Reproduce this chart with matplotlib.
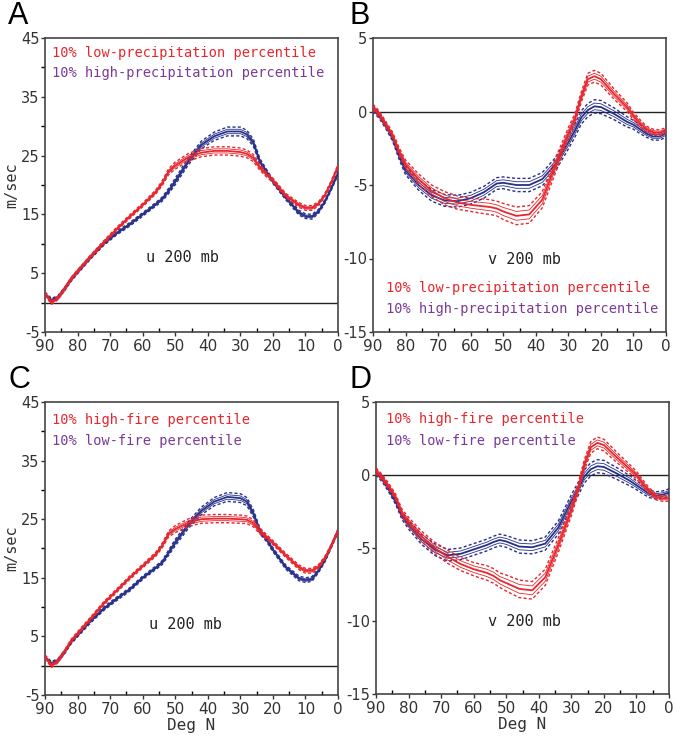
import numpy as np
import matplotlib
matplotlib.use('Agg')
import matplotlib.pyplot as plt

plt.rcParams['axes.unicode_minus'] = False

# latitude grid (deg N) shared by all curves
lat = [90, 88, 86, 84, 82, 80, 76, 72, 68, 64, 60, 56, 54, 52, 50, 46, 42, 38,
       34, 30, 28, 26, 24, 22, 20, 16, 12, 10, 8, 6, 4, 2, 0]

# A: u 200 mb, precipitation composites
a_red = [1.5, 0.0, 0.8, 2.3, 4.0, 5.3, 7.8, 10.2, 12.5, 14.6, 16.6, 18.8, 20.3, 22.3, 23.3, 24.7, 25.5, 25.8,
         25.8, 25.6, 25.3, 24.6, 23.0, 21.8, 20.8, 18.2, 16.6, 16.1, 16.1, 16.8, 18.3, 20.5, 23.2]
a_blue = [1.5, 0.4, 0.9, 2.3, 3.9, 5.2, 7.7, 10.0, 11.8, 13.3, 15.0, 16.7, 17.6, 19.0, 20.6, 24.0, 26.8, 28.3,
          29.1, 29.1, 28.6, 27.2, 24.0, 22.3, 20.6, 17.8, 15.3, 14.7, 14.6, 15.5, 17.2, 19.5, 22.0]
# B: v 200 mb, precipitation composites
b_red = [0.3, -0.2, -0.9, -1.6, -2.7, -3.6, -4.6, -5.4, -5.9, -6.2, -6.35, -6.45, -6.5, -6.6, -6.8, -7.1, -7.0, -6.0,
         -3.7, -1.5, -0.5, 1.0, 2.2, 2.4, 2.2, 1.2, 0.3, -0.3, -0.8, -1.2, -1.4, -1.45, -1.3]
b_blue = [0.2, -0.3, -1.0, -1.8, -3.0, -4.0, -5.0, -5.7, -6.05, -6.1, -5.9, -5.5, -5.2, -4.9, -4.85, -5.0, -5.0, -4.6,
          -3.6, -2.1, -1.3, -0.4, 0.1, 0.35, 0.3, -0.15, -0.7, -0.9, -1.2, -1.5, -1.7, -1.7, -1.5]
# C: u 200 mb, fire composites
c_red = [1.5, 0.0, 0.8, 2.4, 4.2, 5.5, 8.0, 10.6, 12.8, 15.0, 17.0, 19.0, 20.5, 22.5, 23.3, 24.4, 25.0, 25.1,
         25.1, 25.0, 24.9, 24.3, 23.0, 22.0, 21.0, 18.8, 16.8, 16.2, 16.2, 16.9, 18.4, 20.5, 23.0]
c_blue = [1.5, 0.4, 0.9, 2.3, 4.0, 5.2, 7.6, 9.7, 11.4, 13.0, 15.0, 16.7, 17.6, 19.3, 21.0, 24.0, 26.4, 28.0,
          28.8, 28.6, 28.0, 26.0, 23.0, 21.6, 19.8, 16.8, 14.9, 14.6, 14.8, 16.2, 18.0, 20.5, 23.0]
# D: v 200 mb, fire composites
d_red = [0.3, -0.2, -0.8, -1.5, -2.6, -3.2, -4.2, -5.0, -5.6, -6.1, -6.45, -6.7, -6.9, -7.2, -7.4, -7.8, -7.9, -7.0,
         -4.8, -2.4, -1.0, 0.7, 1.9, 2.2, 2.05, 1.2, 0.4, 0.0, -0.6, -1.1, -1.5, -1.6, -1.6]
d_blue = [0.2, -0.3, -1.0, -1.8, -2.8, -3.4, -4.4, -5.1, -5.5, -5.4, -5.1, -4.8, -4.6, -4.45, -4.55, -4.9, -4.95, -4.7,
          -3.6, -1.8, -1.0, -0.1, 0.4, 0.6, 0.55, 0.1, -0.4, -0.7, -1.0, -1.3, -1.4, -1.35, -1.2]

# half-width of the dashed confidence lines
u_red_spread = [0.3, 0.3, 0.3, 0.3, 0.3, 0.3, 0.3, 0.3, 0.3, 0.3, 0.3, 0.35, 0.4, 0.5, 0.6, 0.65, 0.7, 0.7,
                0.7, 0.7, 0.65, 0.6, 0.5, 0.4, 0.35, 0.35, 0.4, 0.4, 0.4, 0.35, 0.3, 0.3, 0.3]
u_blue_spread = [0.3, 0.3, 0.3, 0.3, 0.3, 0.3, 0.3, 0.3, 0.3, 0.3, 0.3, 0.3, 0.35, 0.45, 0.55, 0.6, 0.65, 0.7,
                 0.75, 0.75, 0.7, 0.6, 0.5, 0.4, 0.35, 0.35, 0.4, 0.4, 0.4, 0.35, 0.3, 0.3, 0.3]
v_red_spread = [0.2, 0.2, 0.2, 0.2, 0.25, 0.3, 0.35, 0.4, 0.45, 0.45, 0.45, 0.5, 0.5, 0.5, 0.55, 0.6, 0.6, 0.55,
                0.5, 0.4, 0.35, 0.35, 0.4, 0.4, 0.4, 0.35, 0.3, 0.25, 0.25, 0.2, 0.2, 0.2, 0.2]
v_blue_spread = [0.2, 0.2, 0.2, 0.2, 0.25, 0.3, 0.35, 0.4, 0.4, 0.4, 0.4, 0.4, 0.4, 0.4, 0.4, 0.45, 0.45, 0.45,
                 0.45, 0.45, 0.45, 0.45, 0.45, 0.45, 0.45, 0.4, 0.35, 0.3, 0.3, 0.25, 0.25, 0.25, 0.25]

RED = '#e8262d'
BLUE = '#27308a'
PURPLE = '#7a3a96'
MONO = 'DejaVu Sans Mono'

W, H = 677, 742
fig = plt.figure(figsize=(W / 100, H / 100), dpi=100)


def px_axes(left, top, right, bottom):
    return fig.add_axes([left / W, 1 - bottom / H, (right - left) / W, (bottom - top) / H])


def band(ax, y, s, color):
    x = np.array(lat)
    y = np.array(y)
    s = np.array(s)
    ax.plot(x, y, color=color, lw=1.3, zorder=3)
    for k in (-0.5, 0.5):
        ax.plot(x, y + k * s, color=color, lw=0.6, zorder=3)
    for k in (-1, 1):
        ax.plot(x, y + k * s, color=color, lw=1.0, ls=(0, (2.2, 1.6)), zorder=3)


def style(ax, ylim, major, xlabel):
    ax.set_xlim(90, 0)
    ax.set_ylim(*ylim)
    ax.axhline(0, color='#222222', lw=1.0, zorder=2)
    ax.set_xticks(range(90, -1, -10))
    ax.set_xticks(range(85, 0, -10), minor=True)
    ax.set_yticks(major)
    ax.set_yticks(np.arange(ylim[0], ylim[1] + 0.1, 5), minor=True)
    ax.tick_params(axis='x', which='major', direction='out', length=3, width=1, labelsize=11, pad=2)
    ax.tick_params(axis='x', which='minor', direction='in', length=3, width=1)
    ax.tick_params(axis='y', which='both', direction='out', length=3, width=1, labelsize=10.5, pad=1)
    ax.tick_params(colors='#333333')
    for sp in ax.spines.values():
        sp.set_color('#444444')
        sp.set_linewidth(1.2)
    if xlabel:
        ax.set_xlabel('Deg N', family=MONO, fontsize=11.5, labelpad=1, color='#333333')


panels = [
    ('A', (45, 38, 338, 332), a_red, a_blue, u_red_spread, u_blue_spread,
     ['10% low-precipitation percentile', '10% high-precipitation percentile'], 'u 200 mb'),
    ('B', (373, 38, 666, 332), b_red, b_blue, v_red_spread, v_blue_spread,
     ['10% low-precipitation percentile', '10% high-precipitation percentile'], 'v 200 mb'),
    ('C', (45, 402, 338, 695), c_red, c_blue, u_red_spread, u_blue_spread,
     ['10% high-fire percentile', '10% low-fire percentile'], 'u 200 mb'),
    ('D', (376, 402, 669, 694), d_red, d_blue, v_red_spread, v_blue_spread,
     ['10% high-fire percentile', '10% low-fire percentile'], 'v 200 mb'),
]

for letter, box, red, blue, rs, bs, labels, title in panels:
    ax = px_axes(*box)
    is_u = title.startswith('u')
    if is_u:
        style(ax, (-5, 45), [-5, 5, 15, 25, 35, 45], letter == 'C')
        ax.set_ylabel('m/sec', family=MONO, fontsize=11, labelpad=1, color='#333333')
    else:
        style(ax, (-15, 5), [-15, -10, -5, 0, 5], letter == 'D')
    band(ax, blue, bs, BLUE)
    band(ax, red, rs, RED)

    if letter == 'B':
        lx, ly1, ly2 = 0.044, 0.150, 0.077
        tx, ty = 0.518, 0.248
    elif letter == 'A':
        lx, ly1, ly2 = 0.024, 0.949, 0.881
        tx, ty = 0.47, 0.252
    elif letter == 'C':
        lx, ly1, ly2 = 0.024, 0.939, 0.867
        tx, ty = 0.478, 0.239
    else:
        lx, ly1, ly2 = 0.034, 0.942, 0.868
        tx, ty = 0.507, 0.248
    ax.text(lx, ly1, labels[0], transform=ax.transAxes, family=MONO, fontsize=9.8,
            color=RED, va='center', ha='left')
    ax.text(lx, ly2, labels[1], transform=ax.transAxes, family=MONO, fontsize=9.8,
            color=PURPLE, va='center', ha='left')
    ax.text(tx, ty, title, transform=ax.transAxes, family=MONO, fontsize=11,
            color='#222222', va='center', ha='center')

    lpx = 8 if box[0] < 100 else 350
    lpy = 16 if box[1] < 100 else 380
    fig.text(lpx / W, 1 - lpy / H, letter, fontsize=22, family='Liberation Sans',
             va='center', ha='left', color='black')

fig.savefig('out.png', dpi=100)
